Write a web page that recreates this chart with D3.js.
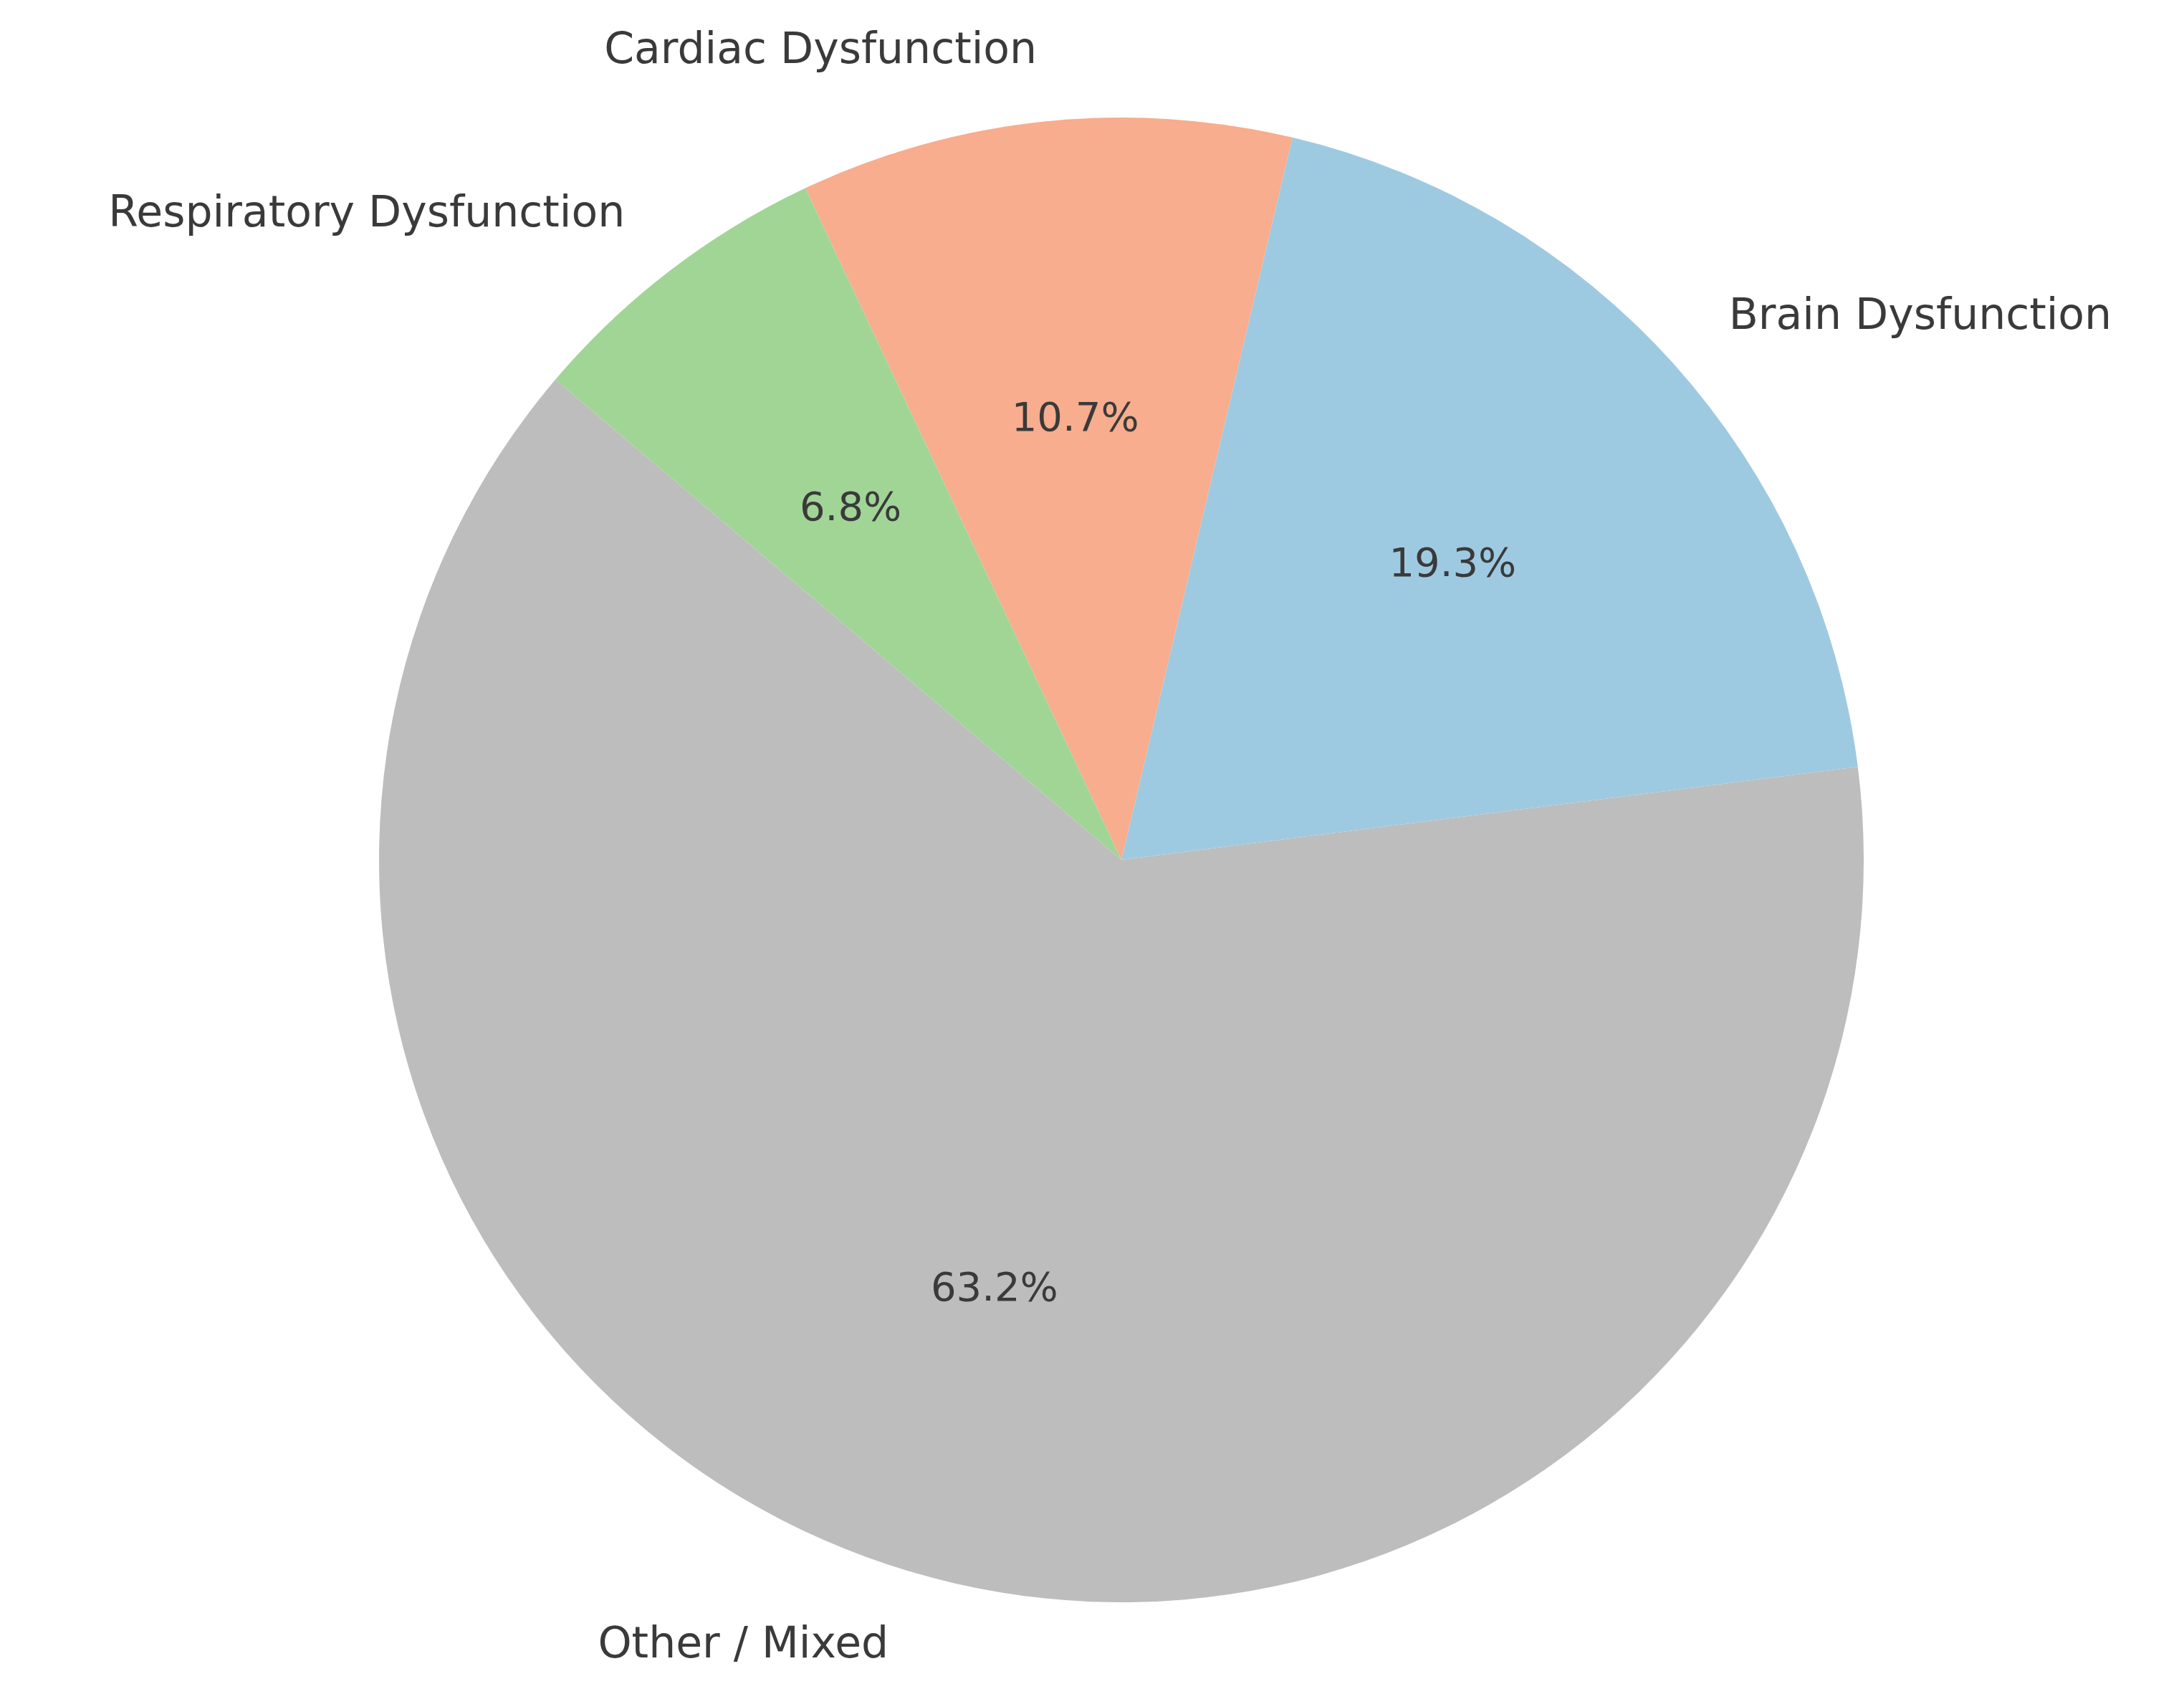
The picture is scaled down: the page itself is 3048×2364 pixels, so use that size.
<!DOCTYPE html>
<html><head><meta charset="utf-8">
<script src="https://cdn.jsdelivr.net/npm/d3@7"></script>
<style>body{margin:0;background:#fff}</style></head>
<body><svg id="c" width="3048" height="2364"></svg>
<script>
const categories = ["Brain Dysfunction","Cardiac Dysfunction","Respiratory Dysfunction","Other / Mixed"];
const values = [19.3, 10.7, 6.8, 63.2];
const colors = ["#9ecae1","#f7ad8e","#a1d596","#bdbdbd"];
const startDeg = 7.2;

const cx=1565, cy=1200, r=1036;
const svg=d3.select("#c");
const g=svg.append("g").attr("transform",`translate(${cx},${cy})`);
const rad=d=>d*Math.PI/180;
const pie=d3.pie().sort(null).value(d=>d)
  .startAngle(rad(90-startDeg)).endAngle(rad(90-startDeg-360));
const arcs=pie(values);
const arc=d3.arc().innerRadius(0).outerRadius(r);
g.selectAll("path").data(arcs).join("path").attr("d",arc).attr("fill",(d,i)=>colors[i]);
arcs.forEach((a,i)=>{
  const mid=(a.startAngle+a.endAngle)/2; // d3 angle from 12 o'clock clockwise
  const x=Math.sin(mid), y=-Math.cos(mid);
  g.append("text").attr("x",x*r*1.1).attr("y",y*r*1.1)
   .attr("text-anchor",x>0?"start":"end").attr("dominant-baseline","central")
   .attr("font-family","DejaVu Sans").attr("font-size",60).attr("fill","#3a3a3a")
   .text(categories[i]);
  g.append("text").attr("x",x*r*0.6).attr("y",y*r*0.6)
   .attr("text-anchor","middle").attr("dominant-baseline","central")
   .attr("font-family","DejaVu Sans").attr("font-size",56).attr("fill","#3a3a3a")
   .text(values[i].toFixed(1)+"%");
});
</script></body></html>
